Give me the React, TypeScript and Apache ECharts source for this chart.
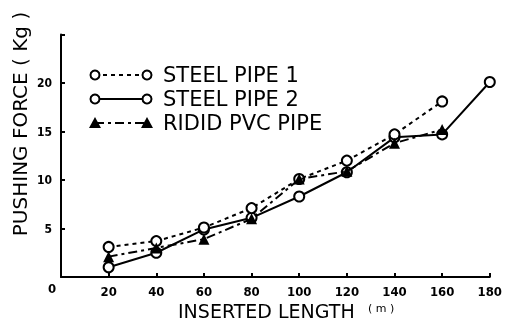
import React, { useEffect, useRef } from "react";
import * as echarts from "echarts";

const lengths = [20, 40, 60, 80, 100, 120, 140, 160, 180];
const steelPipe1 = [3.1, 3.7, 5.1, 7.1, 10.1, 12.0, 14.7, 18.1, null];
const steelPipe2 = [1.0, 2.5, 4.9, 6.1, 8.3, 10.8, 14.4, 14.7, 20.1];
const pvcPipe = [2.1, 3.0, 3.9, 6.0, 10.1, 10.9, 13.8, 15.2, null];
const seriesNames = ["STEEL PIPE 1", "STEEL PIPE 2", "RIDID PVC PIPE"];

const FONT = "'DejaVu Sans', sans-serif";
const TICKFONT = "'DejaVu Sans Condensed', 'DejaVu Sans', sans-serif";

export default function App() {
  const ref = useRef<HTMLDivElement>(null);
  useEffect(() => {
    const chart = echarts.init(ref.current!, null, { renderer: "svg" });
    const pts = (arr: (number | null)[]) =>
      lengths.map((x, i) => [x, arr[i]]).filter((p) => p[1] !== null);
    const circle = { symbol: "circle", symbolSize: 10, itemStyle: { color: "#fff", borderColor: "#000", borderWidth: 2 } };
    const legendRow = (y: number, dash: any, marker: "circle" | "tri", label: string) => {
      const els: any[] = [
        { type: "line", shape: { x1: 95, y1: y, x2: 147, y2: y }, style: { stroke: "#000", lineWidth: 2, lineDash: dash } },
      ];
      for (const cx of [95, 147]) {
        if (marker === "circle") {
          els.push({ type: "circle", shape: { cx, cy: y, r: 4.5 }, style: { fill: "#fff", stroke: "#000", lineWidth: 2 } });
        } else {
          els.push({ type: "polygon", shape: { points: [[cx, y - 6], [cx - 6, y + 5], [cx + 6, y + 5]] }, style: { fill: "#000" } });
        }
      }
      els.push({ type: "text", x: 163, y, style: { text: label, font: `21px ${FONT}`, fill: "#000", verticalAlign: "middle" } });
      return els;
    };
    chart.setOption({
      animation: false,
      grid: { left: 61, right: 13, top: 34.5, bottom: 45 },
      xAxis: {
        type: "value",
        min: 0,
        max: 180,
        interval: 20,
        axisLine: { lineStyle: { color: "#000", width: 2 } },
        axisTick: { inside: true, length: 4, lineStyle: { color: "#000", width: 2 } },
        splitLine: { show: false },
        axisLabel: {
          formatter: (v: number) => (v === 0 ? "" : String(v)),
          color: "#000",
          fontSize: 13,
          fontWeight: "bold",
          fontFamily: TICKFONT,
          margin: 8,
        },
      },
      yAxis: {
        type: "value",
        min: 0,
        max: 25,
        interval: 5,
        axisLine: { show: true, lineStyle: { color: "#000", width: 2 } },
        axisTick: { show: true, inside: true, length: 4, lineStyle: { color: "#000", width: 2 } },
        splitLine: { show: false },
        axisLabel: {
          formatter: (v: number) => (v === 0 || v === 25 ? "" : String(v)),
          color: "#000",
          fontSize: 12,
          fontWeight: "bold",
          fontFamily: TICKFONT,
          margin: 9,
        },
      },
      series: [
        { name: seriesNames[0], type: "line", data: pts(steelPipe1), lineStyle: { color: "#000", width: 2, type: [4, 4] }, ...circle, z: 3 },
        { name: seriesNames[1], type: "line", data: pts(steelPipe2), lineStyle: { color: "#000", width: 2, type: "solid" }, ...circle, z: 2 },
        {
          name: seriesNames[2],
          type: "line",
          data: pts(pvcPipe),
          symbol: "triangle",
          symbolSize: 11,
          itemStyle: { color: "#000" },
          lineStyle: { color: "#000", width: 2, type: [9, 4, 3, 4] },
          z: 4,
        },
      ],
      graphic: [
        ...legendRow(75, [4, 4], "circle", seriesNames[0]),
        ...legendRow(99, null, "circle", seriesNames[1]),
        ...legendRow(123, [9, 4, 3, 4], "tri", seriesNames[2]),
        { type: "text", x: 52, y: 288, style: { text: "0", font: `bold 13px ${TICKFONT}`, fill: "#000", align: "center", verticalAlign: "middle" } },
        {
          type: "text",
          x: 20,
          y: 124,
          rotation: Math.PI / 2,
          style: { text: "PUSHING FORCE ( Kg )", font: `20px ${FONT}`, fill: "#000", align: "center", verticalAlign: "middle" },
        },
        {
          type: "text",
          x: 178,
          y: 311,
          style: { text: "INSERTED LENGTH", font: `19px ${FONT}`, fill: "#000", verticalAlign: "middle" },
        },
        {
          type: "text",
          x: 368,
          y: 308,
          style: { text: "( m )", font: `11px ${FONT}`, fill: "#000", verticalAlign: "middle" },
        },
      ],
    });
    return () => chart.dispose();
  }, []);
  return <div ref={ref} style={{ position: "fixed", left: 0, top: 0, width: 505, height: 322 }} />;
}
